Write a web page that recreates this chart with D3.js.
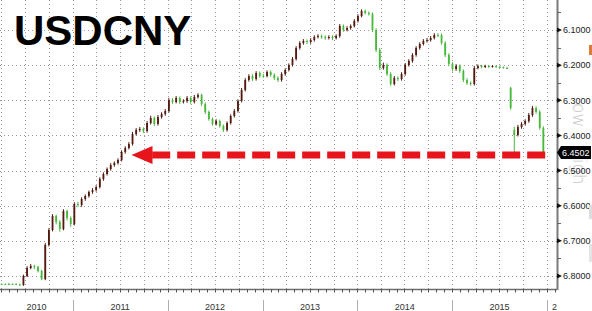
<!DOCTYPE html>
<html>
<head>
<meta charset="utf-8">
<script src="https://cdn.jsdelivr.net/npm/d3@7"></script>
<style>
  html, body { margin: 0; padding: 0; background: #fff; }
  svg { display: block; }
</style>
</head>
<body>
<svg id="chart" width="592" height="311"></svg>
<script>
// ---------------- DATA ----------------
const title = "USDCNY";
const seriesStart = "2010-03-19";   // first candle
const stepDays = 14;                 // candle period
const opens = [
6.8240,6.8228,6.8228,6.8228,6.8228,6.8228,6.8242,6.8257,6.8001,6.7773,
6.7716,6.7744,6.7858,6.8086,6.7118,6.6692,6.6293,6.6464,6.6663,6.6151,
6.6350,6.6521,6.5952,6.5980,6.5809,6.5724,6.5610,6.5553,6.5468,6.5240,
6.5098,6.4956,6.4842,6.4785,6.4700,6.4472,6.4358,6.4244,6.3960,6.3846,
6.3817,6.3874,6.3647,6.3504,6.3675,6.3476,6.3390,6.3305,6.2992,6.3049,
6.2935,6.3049,6.3021,6.2935,6.3049,6.2907,6.2850,6.3106,6.3334,6.3533,
6.3675,6.3590,6.3732,6.3846,6.3647,6.3447,6.3305,6.3020,6.2707,6.2423,
6.2309,6.2394,6.2224,6.2309,6.2309,6.2195,6.2281,6.2366,6.2423,6.2252,
6.2138,6.1996,6.1825,6.1512,6.1370,6.1313,6.1341,6.1285,6.1199,6.1171,
6.1199,6.1228,6.1199,6.1228,6.1171,6.0886,6.1000,6.0943,6.0886,6.0744,
6.0602,6.0459,6.0516,6.0545,6.1000,6.1569,6.2081,6.1996,6.2252,6.2537,
6.2366,6.2394,6.2252,6.1996,6.1882,6.1711,6.1512,6.1398,6.1313,6.1285,
6.1228,6.1142,6.1142,6.1370,6.1711,6.1968,6.2110,6.2024,6.2167,6.2423,
6.2508,6.2537,6.2081,6.2024,6.2053,6.2024,6.2053,6.2024,6.2053,6.2053,
6.2081,6.2650,6.3850,6.3988,6.3760,6.3675,6.3590,6.3419,6.3220,6.3334,
6.3789
];
const closes = [
6.8228,6.8228,6.8228,6.8228,6.8228,6.8242,6.8257,6.8001,6.7773,6.7716,
6.7744,6.7858,6.8086,6.7118,6.6692,6.6293,6.6464,6.6663,6.6151,6.6350,
6.6521,6.5952,6.5980,6.5809,6.5724,6.5610,6.5553,6.5468,6.5240,6.5098,
6.4956,6.4842,6.4785,6.4700,6.4472,6.4358,6.4244,6.3960,6.3846,6.3817,
6.3874,6.3647,6.3504,6.3675,6.3476,6.3390,6.3305,6.2992,6.3049,6.2935,
6.3049,6.3021,6.2935,6.3049,6.2907,6.2850,6.3106,6.3334,6.3533,6.3675,
6.3590,6.3732,6.3846,6.3647,6.3447,6.3305,6.3020,6.2707,6.2423,6.2309,
6.2394,6.2224,6.2309,6.2309,6.2195,6.2281,6.2366,6.2423,6.2252,6.2138,
6.1996,6.1825,6.1512,6.1370,6.1313,6.1341,6.1285,6.1199,6.1171,6.1199,
6.1228,6.1199,6.1228,6.1171,6.0886,6.1000,6.0943,6.0886,6.0744,6.0602,
6.0459,6.0516,6.0545,6.1000,6.1569,6.2081,6.1996,6.2252,6.2537,6.2366,
6.2394,6.2252,6.1996,6.1882,6.1711,6.1512,6.1398,6.1313,6.1285,6.1228,
6.1142,6.1142,6.1370,6.1711,6.1968,6.2110,6.2024,6.2167,6.2423,6.2508,
6.2537,6.2081,6.2024,6.2053,6.2024,6.2053,6.2024,6.2053,6.2053,6.2081,
6.2081,6.3220,6.3988,6.3760,6.3675,6.3590,6.3419,6.3220,6.3334,6.3789,
6.4502
];
const lows = [
6.820,6.821,6.821,6.820,6.821,6.821,6.822,6.796,6.772,6.766,
6.768,6.771,6.782,6.706,6.664,6.624,6.625,6.641,6.610,6.611,
6.630,6.590,6.589,6.576,6.568,6.557,6.550,6.542,6.519,6.505,
6.491,6.479,6.474,6.465,6.442,6.431,6.419,6.390,6.379,6.376,
6.377,6.359,6.344,6.346,6.342,6.334,6.325,6.293,6.294,6.288,
6.289,6.297,6.288,6.289,6.285,6.280,6.281,6.306,6.329,6.349,
6.354,6.355,6.369,6.360,6.340,6.325,6.297,6.265,6.237,6.226,
6.226,6.217,6.218,6.225,6.215,6.215,6.223,6.232,6.220,6.209,
6.195,6.177,6.146,6.132,6.126,6.127,6.123,6.115,6.112,6.113,
6.115,6.115,6.115,6.112,6.083,6.084,6.089,6.084,6.069,6.055,
6.041,6.042,6.047,6.050,6.095,6.151,6.193,6.195,6.220,6.231,
6.232,6.220,6.194,6.183,6.166,6.146,6.135,6.126,6.123,6.117,
6.109,6.109,6.110,6.132,6.166,6.191,6.197,6.198,6.212,6.237,
6.246,6.202,6.198,6.199,6.199,6.200,6.200,6.201,6.202,6.204,
6.205,6.262,6.375,6.370,6.362,6.354,6.336,6.316,6.317,6.328,
6.374
];
const highs = [
6.826,6.825,6.824,6.825,6.825,6.826,6.828,6.828,6.803,6.781,
6.780,6.790,6.812,6.812,6.716,6.673,6.653,6.674,6.670,6.642,
6.660,6.656,6.604,6.603,6.586,6.577,6.566,6.560,6.551,6.529,
6.514,6.500,6.489,6.483,6.474,6.452,6.440,6.429,6.400,6.390,
6.393,6.392,6.369,6.373,6.372,6.352,6.344,6.335,6.310,6.309,
6.311,6.309,6.307,6.310,6.309,6.295,6.316,6.339,6.358,6.372,
6.372,6.378,6.390,6.389,6.369,6.349,6.335,6.306,6.275,6.247,
6.245,6.244,6.236,6.236,6.235,6.233,6.242,6.248,6.247,6.230,
6.218,6.204,6.187,6.156,6.142,6.140,6.139,6.133,6.124,6.125,
6.128,6.127,6.129,6.127,6.122,6.105,6.104,6.099,6.093,6.079,
6.064,6.056,6.059,6.106,6.163,6.214,6.213,6.231,6.259,6.258,
6.245,6.244,6.230,6.204,6.193,6.176,6.156,6.144,6.136,6.133,
6.127,6.120,6.142,6.177,6.203,6.218,6.216,6.222,6.248,6.256,
6.258,6.258,6.212,6.209,6.208,6.208,6.207,6.208,6.208,6.210,
6.210,6.327,6.449,6.403,6.381,6.372,6.364,6.347,6.338,6.384,
6.4502
];
const yTicks = [6.1, 6.2, 6.3, 6.4, 6.5, 6.6, 6.7, 6.8];
const yMinorTicks = [6.05, 6.15, 6.25, 6.35, 6.45, 6.55, 6.65, 6.75];
const yearLabels = ["2010", "2011", "2012", "2013", "2014", "2015", "2016"];
const lastValueLabel = "6.4502";
const arrowFrom = "2015-12-25";
const arrowTo = "2011-08-15";
const watermark = ["ow", "High"];

// ---------------- SETUP ----------------
const W = 592, H = 311;
const plotRight = 557, plotBottom = 289;
const parse = d3.timeParse("%Y-%m-%d");
const start = parse(seriesStart);
const data = closes.map((c, i) => ({
  date: d3.timeDay.offset(start, i * stepDays),
  open: opens[i], close: c, low: lows[i], high: highs[i]
}));

const x = d3.scaleTime()
  .domain([new Date(2010, 0, 1), new Date(2016, 0, 1)])
  .range([-22, 547]);
const y = d3.scaleLinear().domain([6.1, 6.8]).range([30, 276]);

const svg = d3.select("#chart");
svg.append("rect").attr("width", W).attr("height", H).attr("fill", "#fff");

const defs = svg.append("defs");
defs.append("clipPath").attr("id", "plotclip")
  .append("rect").attr("x", 0).attr("y", 0).attr("width", plotRight).attr("height", plotBottom);
defs.append("clipPath").attr("id", "axisclip")
  .append("rect").attr("x", 0).attr("y", plotBottom).attr("width", plotRight).attr("height", H - plotBottom);

// grid
const grid = svg.append("g").attr("clip-path", "url(#plotclip)");
grid.selectAll("line.h").data(yTicks).join("line")
  .attr("x1", 0).attr("x2", plotRight)
  .attr("y1", d => Math.round(y(d)) + 0.5).attr("y2", d => Math.round(y(d)) + 0.5)
  .attr("stroke", "#9a9a9a").attr("stroke-width", 1).attr("stroke-dasharray", "1,3");
const quarters = d3.timeMonth.every(3).range(new Date(2010, 0, 1), new Date(2016, 1, 2));
grid.selectAll("line.v").data(quarters).join("line")
  .attr("x1", d => Math.round(x(d)) + 0.5).attr("x2", d => Math.round(x(d)) + 0.5)
  .attr("y1", 0).attr("y2", plotBottom)
  .attr("stroke", "#9a9a9a").attr("stroke-width", 1).attr("stroke-dasharray", "1,3");

// candles
const green = "#46b83a", dark = "#521a0e";
const cg = svg.append("g").attr("clip-path", "url(#plotclip)");
const candle = cg.selectAll("g.c").data(data).join("g");
candle.append("line")
  .attr("x1", d => x(d.date)).attr("x2", d => x(d.date))
  .attr("y1", d => y(d.low)).attr("y2", d => y(d.high))
  .attr("stroke", d => d.close >= d.open ? green : dark).attr("stroke-width", 1);
candle.append("rect")
  .attr("x", d => x(d.date) - 0.9).attr("width", 1.8)
  .attr("y", d => Math.min(y(d.open), y(d.close)))
  .attr("height", d => Math.max(1, Math.abs(y(d.open) - y(d.close))))
  .attr("fill", d => d.close >= d.open ? green : dark);

// axes lines
svg.append("line").attr("x1", 0).attr("x2", plotRight).attr("y1", plotBottom + 0.5).attr("y2", plotBottom + 0.5)
  .attr("stroke", "#6e6e6e").attr("stroke-width", 1.5);
svg.append("line").attr("x1", plotRight + 0.5).attr("x2", plotRight + 0.5).attr("y1", 0).attr("y2", plotBottom + 1)
  .attr("stroke", "#7a7a7a").attr("stroke-width", 2);

// bottom monthly ticks
const months = d3.timeMonth.range(new Date(2010, 0, 1), new Date(2016, 1, 15));
svg.append("g").attr("clip-path", "url(#axisclip)")
  .selectAll("line").data(months).join("line")
  .attr("x1", d => Math.round(x(d)) + 0.5).attr("x2", d => Math.round(x(d)) + 0.5)
  .attr("y1", plotBottom).attr("y2", plotBottom + 3.5)
  .attr("stroke", "#555").attr("stroke-width", 1);

// year separators and labels
const years = yearLabels.map(s => new Date(+s, 0, 1));
const xa = svg.append("g").attr("clip-path", "url(#axisclip)");
xa.selectAll("line.sep").data(years.slice(1)).join("line")
  .attr("x1", d => Math.round(x(d)) + 0.5).attr("x2", d => Math.round(x(d)) + 0.5)
  .attr("y1", 300).attr("y2", H)
  .attr("stroke", "#b0b0b0").attr("stroke-width", 1);
xa.selectAll("text").data(years).join("text")
  .attr("x", (d, i) => i < years.length - 1
      ? (Math.max(0, x(d)) + x(years[i + 1])) / 2 : x(d) + 5)
  .attr("y", 310)
  .attr("text-anchor", (d, i) => i < years.length - 1 ? "middle" : "start")
  .attr("font-family", "Liberation Sans, Arial, sans-serif")
  .attr("font-size", 9).attr("fill", "#333")
  .text((d, i) => yearLabels[i]);

// watermark (rotated, behind labels)
const wm = svg.append("g").attr("font-family", "DejaVu Sans, sans-serif")
  .attr("font-size", 17).attr("fill", "#c9c9c9").attr("font-weight", 300);
wm.append("text").attr("transform", "translate(573,103) rotate(90)").text(watermark[0]);
wm.append("text").attr("transform", "translate(573,146) rotate(90)").text(watermark[1]);

// right axis minor ticks
svg.append("g").selectAll("line").data(yMinorTicks).join("line")
  .attr("x1", plotRight).attr("x2", plotRight + 4)
  .attr("y1", d => Math.round(y(d)) + 0.5).attr("y2", d => Math.round(y(d)) + 0.5)
  .attr("stroke", "#666").attr("stroke-width", 1);
// major tick arrows and labels
const ya = svg.append("g");
ya.selectAll("path").data(yTicks).join("path")
  .attr("d", d => `M${plotRight},${y(d) - 2.5}L${plotRight + 5},${y(d)}L${plotRight},${y(d) + 2.5}Z`)
  .attr("fill", "#111");
ya.selectAll("text").data(yTicks).join("text")
  .attr("x", plotRight + 6).attr("y", d => y(d) + 3.3)
  .attr("font-family", "Liberation Sans, Arial, sans-serif")
  .attr("font-size", 9).attr("fill", "#222")
  .text(d => d3.format(".4f")(d));

// last value label
const last = data[data.length - 1];
const ly = y(last.close) - 0.5;
svg.append("path")
  .attr("d", `M${plotRight},${ly}L${plotRight + 4},${ly - 6.5}L${W - 1},${ly - 6.5}L${W - 1},${ly + 6.5}L${plotRight + 4},${ly + 6.5}Z`)
  .attr("fill", "#000");
svg.append("text").attr("x", plotRight + 5).attr("y", ly + 3.3)
  .attr("font-family", "Liberation Sans, Arial, sans-serif")
  .attr("font-size", 9).attr("fill", "#fff").text(lastValueLabel);

// right edge bits
svg.append("rect").attr("x", 589).attr("y", 45).attr("width", 3).attr("height", 10).attr("fill", "#e07a3a");
svg.append("rect").attr("x", 589).attr("y", 205).attr("width", 3).attr("height", 14).attr("fill", "#dcdcdc");
svg.append("rect").attr("x", 589).attr("y", 244).attr("width", 3).attr("height", 18).attr("fill", "#e4e4e4");

// red dashed arrow
const ay = y(last.close) + 2;
const ax1 = x(parse(arrowFrom)), ax0 = x(parse(arrowTo));
const red = "#e8141c";
svg.append("line")
  .attr("x1", ax1).attr("x2", ax0 + 20).attr("y1", ay).attr("y2", ay)
  .attr("stroke", red).attr("stroke-width", 7).attr("stroke-dasharray", "18,7");
svg.append("path")
  .attr("d", `M${ax0},${ay}L${ax0 + 21},${ay - 9}L${ax0 + 21},${ay + 9}Z`)
  .attr("fill", red);

// title
svg.append("text").attr("x", 14).attr("y", 45)
  .attr("font-family", "Liberation Sans, Arial, sans-serif")
  .attr("font-weight", "bold").attr("font-size", 42).attr("fill", "#000")
  .text(title);
</script>
</body>
</html>
